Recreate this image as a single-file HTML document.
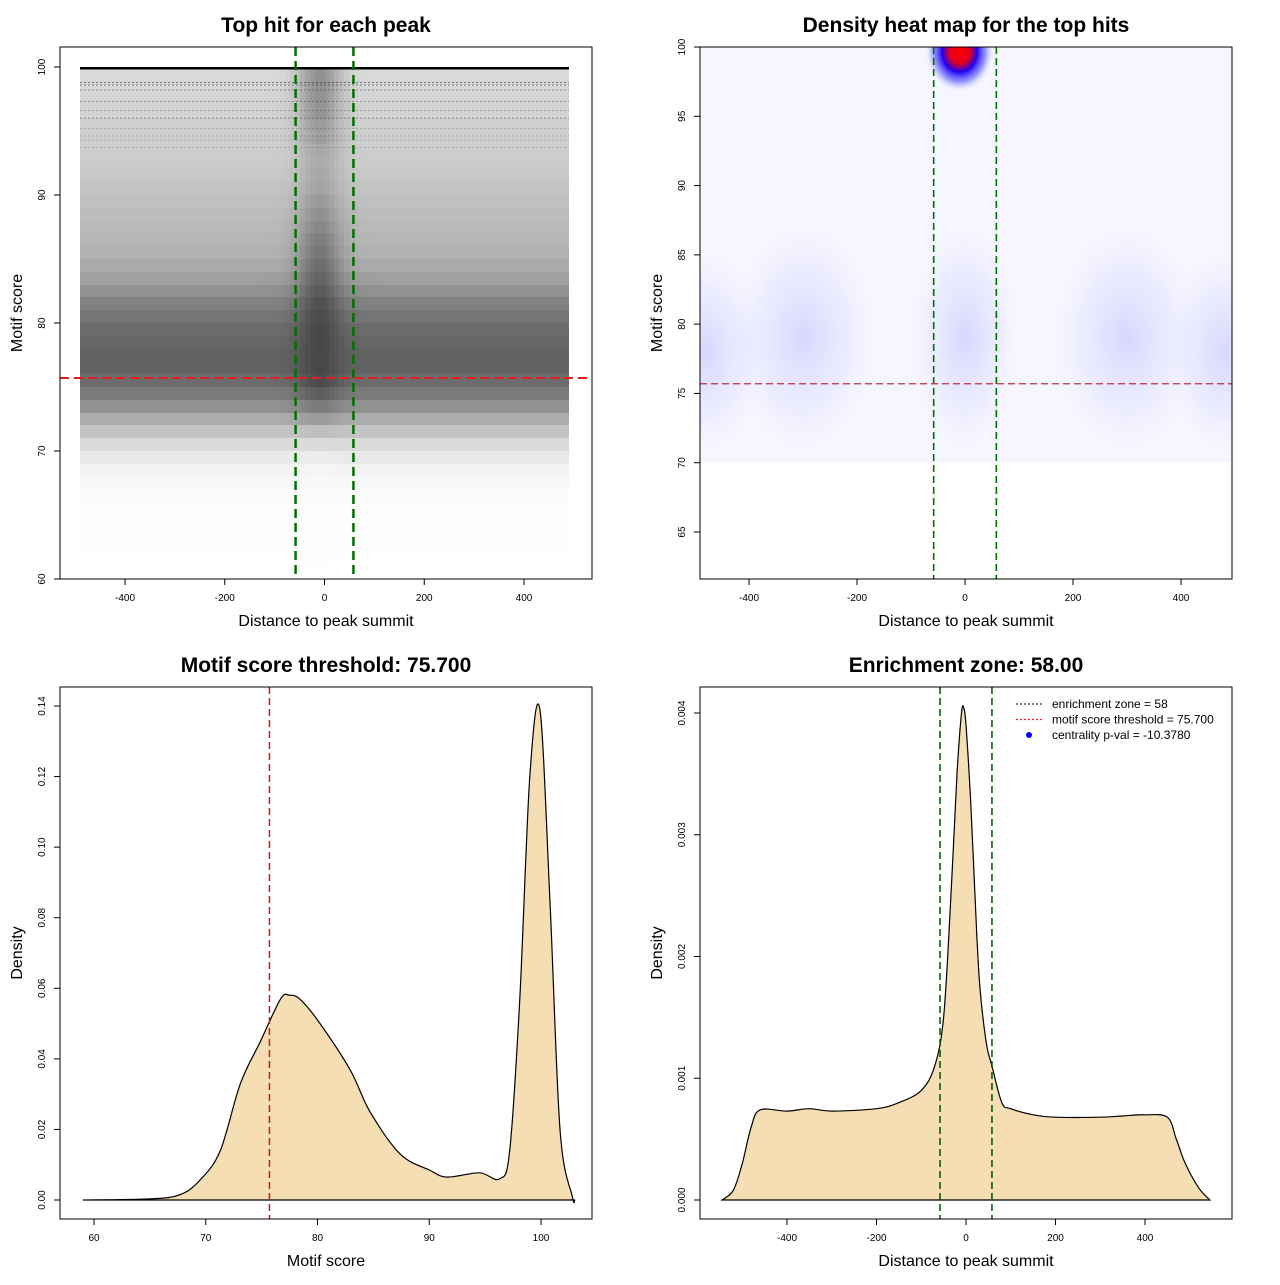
<!DOCTYPE html>
<html><head><meta charset="utf-8"><style>
body{margin:0;background:#fff;}
svg text{font-family:"Liberation Sans",sans-serif;}
</style></head><body>
<svg id="s" width="1280" height="1280" xmlns="http://www.w3.org/2000/svg">
<defs>
<radialGradient id="gRed"><stop offset="0" stop-color="#ff0000"/><stop offset="0.3" stop-color="#e00020"/><stop offset="0.5" stop-color="#2000f0"/><stop offset="0.75" stop-color="#6060ff" stop-opacity="0.6"/><stop offset="1" stop-color="#ffffff" stop-opacity="0"/></radialGradient>
<radialGradient id="gBlue"><stop offset="0" stop-color="#b0b0ff" stop-opacity="0.45"/><stop offset="0.6" stop-color="#c8c8ff" stop-opacity="0.2"/><stop offset="1" stop-color="#ffffff" stop-opacity="0"/></radialGradient>
<clipPath id="clipHeat"><rect x="700" y="47" width="532" height="532"/></clipPath>
</defs>
</svg>
<script>
// ---------- data ----------
const scoreBins=[61,62,63,64,65,66,67,68,69,70,71,72,73,74,75,76,77,78,79,80,81,82,83,84,85,86,87,88,89,90,91,92,93,94,95,96,97,98,99];
const flankDensity=[0,0.005,0.005,0.01,0.015,0.02,0.04,0.07,0.12,0.2,0.32,0.45,0.6,0.72,0.8,0.85,0.85,0.83,0.8,0.75,0.68,0.6,0.52,0.46,0.42,0.4,0.38,0.36,0.34,0.32,0.3,0.28,0.27,0.26,0.25,0.24,0.23,0.22,0.2];
const centerDensity=[0.01,0.01,0.01,0.01,0.01,0.02,0.03,0.05,0.1,0.2,0.35,0.55,0.72,0.88,0.98,1,1,1,1,0.98,0.95,0.9,0.85,0.8,0.75,0.7,0.65,0.6,0.55,0.5,0.48,0.46,0.48,0.52,0.55,0.58,0.6,0.6,0.6];
const topRows=[99.9,98.8,98.6,98.2,97.3,96.6,96.0,95.2,94.6,94.3,93.7];
const topRowStrength=[1,0.45,0.4,0.35,0.3,0.25,0.25,0.2,0.2,0.18,0.15];
const blobX=[-10,0,-480,480,-300,300];
const blobY=[99.7,79,78,78,79,79];
const blobRx=[65,110,120,120,150,150];
const blobRy=[3.0,9,8,8,9,9];
const scoreX=[59,65,67.7,69.5,71.3,73.1,74.9,76.7,77.5,78.4,80,82.9,84.7,87.4,90,91.6,94.5,96.3,97.2,98.1,99,99.9,100.8,101.7,102.8,103];
const scoreDens=[0,0.0003,0.0015,0.0057,0.014,0.033,0.045,0.057,0.058,0.057,0.051,0.037,0.025,0.013,0.0085,0.0065,0.0077,0.006,0.014,0.057,0.12,0.139,0.085,0.02,0.001,0];
const distX=[-545,-520,-500,-480,-460,-400,-350,-300,-200,-150,-100,-70,-50,-35,-20,-10,-5,0,10,20,30,45,58,80,100,150,200,300,350,400,450,470,490,520,545];
const distDens=[0,0.00008,0.0003,0.0006,0.00074,0.00073,0.00075,0.00073,0.00075,0.0008,0.0009,0.0011,0.0015,0.0024,0.0035,0.004,0.00404,0.0039,0.0033,0.0025,0.0018,0.0013,0.0011,0.0008,0.00075,0.0007,0.00068,0.00068,0.00069,0.0007,0.00068,0.0005,0.0003,0.0001,0];
const ticks1X=[-400,-200,0,200,400], ticks1Y=[60,70,80,90,100];
const ticks2Y=[65,70,75,80,85,90,95,100];
const ticks3X=[60,70,80,90,100], ticks3Y=[0,0.02,0.04,0.06,0.08,0.10,0.12,0.14];
const ticks3YL=["0.00","0.02","0.04","0.06","0.08","0.10","0.12","0.14"];
const ticks4Y=[0,0.001,0.002,0.003,0.004], ticks4YL=["0.000","0.001","0.002","0.003","0.004"];

const S=document.getElementById('s');const NS='http://www.w3.org/2000/svg';
function mk(t,a,parent){const e=document.createElementNS(NS,t);for(const k in a)e.setAttribute(k,a[k]);(parent||S).appendChild(e);return e;}
function lin(d0,d1,p0,p1){return v=>p0+(v-d0)*(p1-p0)/(d1-d0);}
function txt(x,y,s,size,opts){const e=mk('text',Object.assign({x:x,y:y,'font-size':size,'text-anchor':'middle'},opts||{}));e.textContent=s;return e;}
function smooth(pts){let d='';for(let i=0;i<pts.length-1;i++){const p0=pts[Math.max(0,i-1)],p1=pts[i],p2=pts[i+1],p3=pts[Math.min(pts.length-1,i+2)];
  const c1x=p1[0]+(p2[0]-p0[0])/6,c1y=p1[1]+(p2[1]-p0[1])/6,c2x=p2[0]-(p3[0]-p1[0])/6,c2y=p2[1]-(p3[1]-p1[1])/6;
  d+=` C${c1x.toFixed(1)},${c1y.toFixed(1)} ${c2x.toFixed(1)},${c2y.toFixed(1)} ${p2[0].toFixed(1)},${p2[1].toFixed(1)}`;}return d;}
function frame(x0,y0,x1,y1,title,xl,yl,name){
  const r=mk('rect',{x:x0,y:y0,width:x1-x0,height:y1-y0,fill:'none',stroke:'#000','stroke-width':1});
  
  const t=txt((x0+x1)/2,y0-15,title,21,{'font-weight':'bold'});
  
  const a=txt((x0+x1)/2,y1+47,xl,16);
  
  const b=txt(0,0,yl,16,{transform:`translate(${x0-38},${(y0+y1)/2}) rotate(-90)`});
  
}
function xticks(vals,labels,sx,y1,name){vals.forEach((v,i)=>{const x=sx(v);
  const l=mk('line',{x1:x,x2:x,y1:y1,y2:y1+6,stroke:'#000'});
  const t=txt(x,y1+22,labels[i],10);});}
function yticks(vals,labels,sy,x0,name){vals.forEach((v,i)=>{const y=sy(v);
  const l=mk('line',{x1:x0-6,x2:x0,y1:y,y2:y,stroke:'#000'});
  const t=txt(0,0,labels[i],10,{transform:`translate(${x0-15},${y}) rotate(-90)`});});}

// ---------- panel 1 ----------
{const sx=lin(0,400,324.5,524),sy=lin(60,100,579,67);
 const g=mk('g',{'shape-rendering':'crispEdges'});
 for(let b=0;b<scoreBins.length;b++){for(let xb=-490;xb<490;xb+=10){const xc=xb+5;
   const w=Math.exp(-Math.pow((xc+10)/45,2));
   const d=flankDensity[b]+(centerDensity[b]-flankDensity[b])*w;
   if(d<=0)continue;
   const x0=Math.round(sx(xb)),x1=Math.round(sx(xb+10)),y0=Math.round(sy(scoreBins[b]+1)),y1=Math.round(sy(scoreBins[b]));
   const c=mk('rect',{x:x0,y:y0,width:x1-x0,height:y1-y0,fill:'#000','fill-opacity':Math.min(1,d*0.72)},g);
   }}
 topRows.forEach((r,i)=>{const l=mk('line',{x1:sx(-490),x2:sx(490),y1:sy(r),y2:sy(r),stroke:'#000','stroke-width':i==0?2.5:1.2,'stroke-opacity':topRowStrength[i],'stroke-dasharray':i==0?'none':'2,2'},g);
   });
 [-58,58].forEach(v=>{const l=mk('line',{x1:sx(v),x2:sx(v),y1:47,y2:579,stroke:'#007000','stroke-width':2.5,'stroke-dasharray':'9,5'});});
 const r=mk('line',{x1:60,x2:592,y1:sy(75.7),y2:sy(75.7),stroke:'#e02020','stroke-width':2,'stroke-dasharray':'9,5'});
 frame(60,47,592,579,'Top hit for each peak','Distance to peak summit','Motif score','scatter');
 xticks(ticks1X,ticks1X.map(String),sx,579,'scatter');yticks(ticks1Y,ticks1Y.map(String),sy,60,'scatter');}

// ---------- panel 2 ----------
{const sx=lin(0,400,965,1181),sy=lin(65,100,532,47);
 const g=mk('g',{'clip-path':'url(#clipHeat)'});
 const band2=mk('rect',{x:700,y:47,width:532,height:sy(70)-47,fill:'#f0f0ff','fill-opacity':0.6},g);
 
 for(let i=blobX.length-1;i>=0;i--){const e=mk('ellipse',{cx:sx(blobX[i]),cy:sy(blobY[i]),rx:sx(blobX[i]+blobRx[i])-sx(blobX[i]),ry:sy(blobY[i])-sy(blobY[i]+blobRy[i]),fill:i==0?'url(#gRed)':'url(#gBlue)'},g);
   }
 [-58,58].forEach(v=>{const l=mk('line',{x1:sx(v),x2:sx(v),y1:47,y2:579,stroke:'#007000','stroke-width':1.6,'stroke-dasharray':'7,4'});});
 const r=mk('line',{x1:700,x2:1232,y1:sy(75.7),y2:sy(75.7),stroke:'#c03040','stroke-width':1.3,'stroke-dasharray':'7,4'});
 frame(700,47,1232,579,'Density heat map for the top hits','Distance to peak summit','Motif score','heatmap');
 xticks(ticks1X,ticks1X.map(String),sx,579,'heatmap');yticks(ticks2Y,ticks2Y.map(String),sy,700,'heatmap');}

// ---------- panel 3 ----------
{const sx=lin(60,100,94,541),sy=lin(0,0.14,1200,706);
 const pts=scoreX.map((v,i)=>[sx(v),sy(scoreDens[i])]);
 const d='M'+pts[0][0]+','+pts[0][1]+smooth(pts)+' Z';
 const p=mk('path',{d:d,fill:'#f5deb3',stroke:'#000','stroke-width':1.2});
 const r=mk('line',{x1:sx(75.7),x2:sx(75.7),y1:687,y2:1219,stroke:'#c02020','stroke-width':1.5,'stroke-dasharray':'7,4'});
 frame(60,687,592,1219,'Motif score threshold: 75.700','Motif score','Density','score-density');
 xticks(ticks3X,ticks3X.map(String),sx,1219,'score-density');yticks(ticks3Y,ticks3YL,sy,60,'score-density');}

// ---------- panel 4 ----------
{const sx=lin(0,400,966,1145),sy=lin(0,0.004,1200,713);
 const pts=distX.map((v,i)=>[sx(v),sy(distDens[i])]);
 const d='M'+pts[0][0]+','+pts[0][1]+smooth(pts)+' Z';
 const p=mk('path',{d:d,fill:'#f5deb3',stroke:'#000','stroke-width':1.2});
 [-58,58].forEach(v=>{const l=mk('line',{x1:sx(v),x2:sx(v),y1:687,y2:1219,stroke:'#005000','stroke-width':1.5,'stroke-dasharray':'7,4'});});
 frame(700,687,1232,1219,'Enrichment zone: 58.00','Distance to peak summit','Density','distance-density');
 xticks(ticks1X,ticks1X.map(String),sx,1219,'distance-density');yticks(ticks4Y,ticks4YL,sy,700,'distance-density');
 const lg=mk('g',{});
 const items=[['enrichment zone = 58','#333','line'],['motif score threshold = 75.700','#ff2020','line'],['centrality p-val = -10.3780','#0000ff','dot']];
 items.forEach((it,i)=>{const y=704+i*15.5;
   if(it[2]=='line'){const l=mk('line',{x1:1016,x2:1042,y1:y,y2:y,stroke:it[1],'stroke-width':1.3,'stroke-dasharray':'2,2'},lg);}
   else{const c=mk('circle',{cx:1029,cy:y,r:3,fill:it[1]},lg);}
   const t=txt(1052,y+4,it[0],12,{'text-anchor':'start'});lg.appendChild(t);});}
</script>
</body></html>
